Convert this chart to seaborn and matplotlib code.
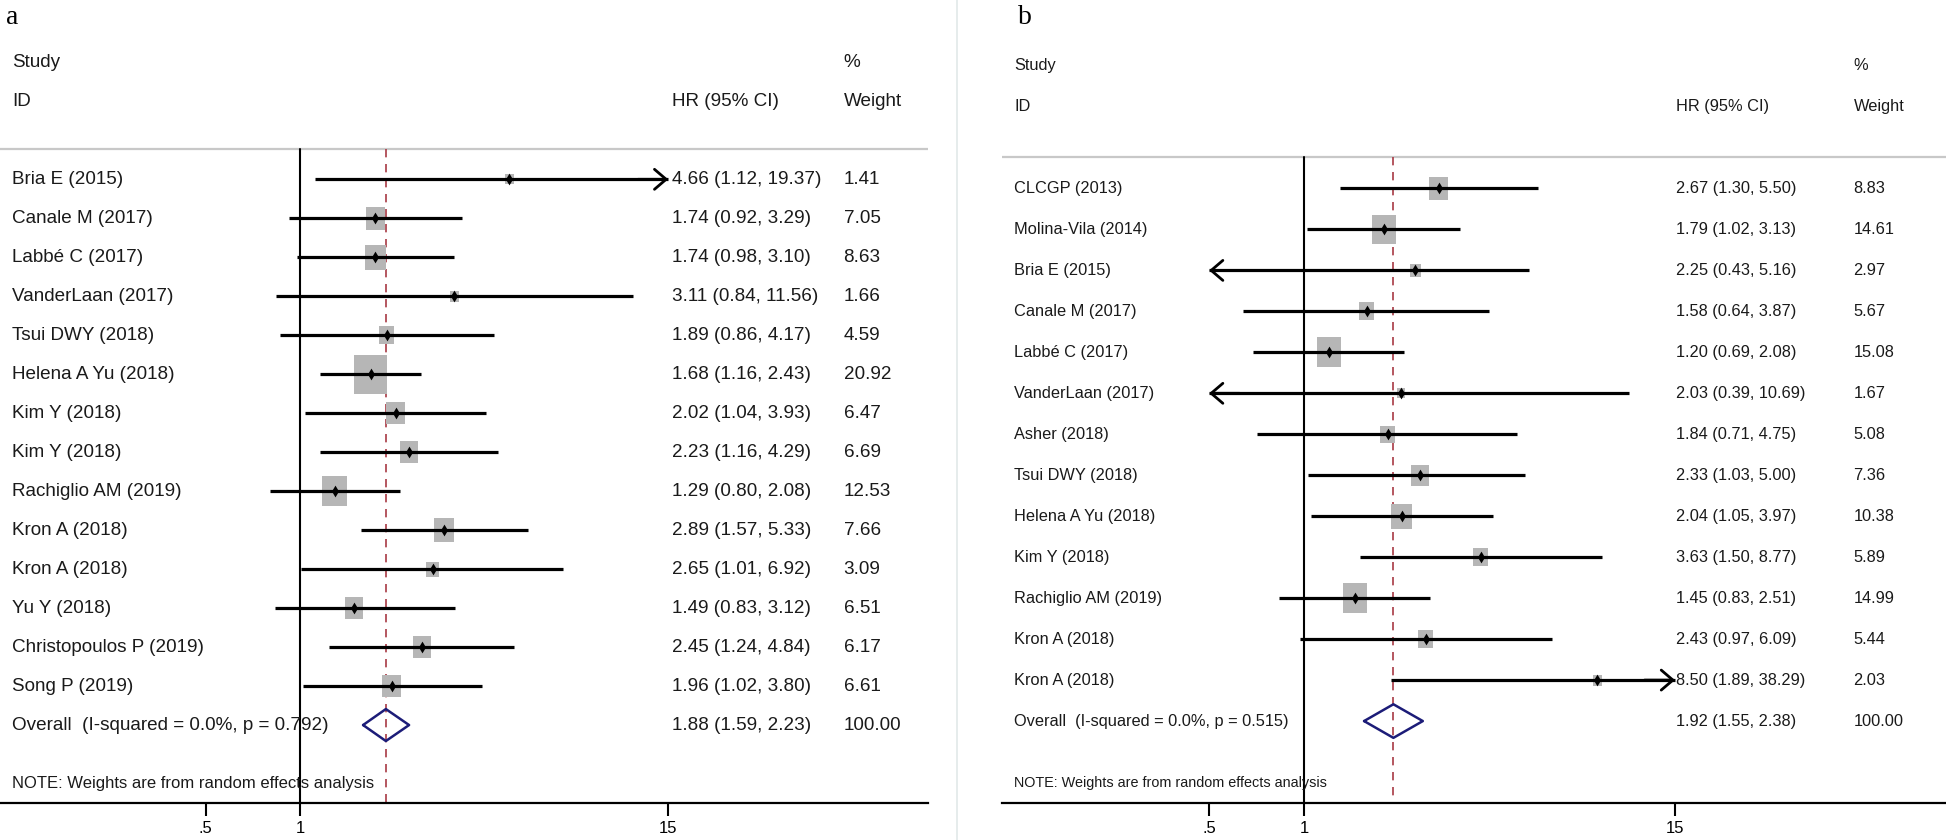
import numpy as np
import pandas as pd
import matplotlib
matplotlib.use("Agg")
import matplotlib.pyplot as plt
import seaborn as sns
from matplotlib.lines import Line2D
from matplotlib.ticker import FixedLocator, NullLocator

sns.set_style("white")
plt.rcParams['font.family'] = ['Liberation Sans', 'DejaVu Sans']

# Panel a data
studies_a = ["Bria E (2015)", "Canale M (2017)", "Labbé C (2017)", "VanderLaan (2017)",
             "Tsui DWY (2018)", "Helena A Yu (2018)", "Kim Y (2018)", "Kim Y (2018)",
             "Rachiglio AM (2019)", "Kron A (2018)", "Kron A (2018)", "Yu Y (2018)",
             "Christopoulos P (2019)", "Song P (2019)"]
hr_a = [4.66, 1.74, 1.74, 3.11, 1.89, 1.68, 2.02, 2.23, 1.29, 2.89, 2.65, 1.49, 2.45, 1.96]
lo_a = [1.12, 0.92, 0.98, 0.84, 0.86, 1.16, 1.04, 1.16, 0.80, 1.57, 1.01, 0.83, 1.24, 1.02]
hi_a = [19.37, 3.29, 3.10, 11.56, 4.17, 2.43, 3.93, 4.29, 2.08, 5.33, 6.92, 3.12, 4.84, 3.80]
wt_a = [1.41, 7.05, 8.63, 1.66, 4.59, 20.92, 6.47, 6.69, 12.53, 7.66, 3.09, 6.51, 6.17, 6.61]
overall_a = [1.88, 1.59, 2.23]
het_a = "Overall  (I-squared = 0.0%, p = 0.792)"

# Panel b data
studies_b = ["CLCGP (2013)", "Molina-Vila (2014)", "Bria E (2015)", "Canale M (2017)",
             "Labbé C (2017)", "VanderLaan (2017)", "Asher (2018)", "Tsui DWY (2018)",
             "Helena A Yu (2018)", "Kim Y (2018)", "Rachiglio AM (2019)", "Kron A (2018)",
             "Kron A (2018)"]
hr_b = [2.67, 1.79, 2.25, 1.58, 1.20, 2.03, 1.84, 2.33, 2.04, 3.63, 1.45, 2.43, 8.50]
lo_b = [1.30, 1.02, 0.43, 0.64, 0.69, 0.39, 0.71, 1.03, 1.05, 1.50, 0.83, 0.97, 1.89]
hi_b = [5.50, 3.13, 5.16, 3.87, 2.08, 10.69, 4.75, 5.00, 3.97, 8.77, 2.51, 6.09, 38.29]
wt_b = [8.83, 14.61, 2.97, 5.67, 15.08, 1.67, 5.08, 7.36, 10.38, 5.89, 14.99, 5.44, 2.03]
overall_b = [1.92, 1.55, 2.38]
het_b = "Overall  (I-squared = 0.0%, p = 0.515)"

tick_vals = [0.5, 1, 15]
tick_labels = [".5", "1", "15"]
note = "NOTE: Weights are from random effects analysis"

W, H = 1946, 840
fig = plt.figure(figsize=(W / 100, H / 100), dpi=100)

box_marker = [(-0.42, -0.5), (0.42, -0.5), (0.42, 0.5), (-0.42, 0.5), (-0.42, -0.5)]
txt_col = "#1a1a1a"


def draw_panel(ax, studies, hr, lo, hi, wt, overall, het, xlim, box_k, fs,
               hr_x, wt_x):
    n = len(studies)
    df = pd.DataFrame({"study": studies, "hr": hr, "lo": lo, "hi": hi, "wt": wt,
                       "row": np.arange(n)})
    ax.set_xscale("log")
    ax.set_xlim(*xlim)
    ax.set_ylim(n + 2, -4.6)
    cmin, cmax = tick_vals[0], tick_vals[-1]

    # header rule, null line, overall line
    ax.axhline(-0.78, color="#c8c8c8", lw=1.6, zorder=1)
    ax.plot([1, 1], [-0.78, n + 2], color="black", lw=1.5, zorder=2)
    ax.plot([overall[0]] * 2, [-0.78, n + 2], color="#a83a44", lw=1.2,
            dashes=(5, 4), zorder=2)

    # weight boxes
    sns.scatterplot(data=df, x="hr", y="row", size="wt",
                    sizes=(box_k * df.wt.min(), box_k * df.wt.max()),
                    size_norm=(df.wt.min(), df.wt.max()),
                    marker=box_marker, color="#b6b6b6", linewidth=0,
                    legend=False, ax=ax, zorder=3)

    # confidence intervals, clipped with arrows
    arrow = dict(arrowstyle="->,head_length=0.42,head_width=0.36", color="black",
                 lw=2.0, mutation_scale=20, shrinkA=0, shrinkB=0)
    for r in df.itertuples():
        a, b = max(r.lo, cmin), min(r.hi, cmax)
        ax.plot([a, b], [r.row, r.row], color="black", lw=2.3,
                solid_capstyle="butt", zorder=4)
        if r.hi > cmax:
            ax.annotate("", xy=(cmax, r.row), xytext=(cmax * 0.8, r.row),
                        arrowprops=arrow, zorder=4)
        if r.lo < cmin:
            ax.annotate("", xy=(cmin, r.row), xytext=(cmin * 1.25, r.row),
                        arrowprops=arrow, zorder=4)

    sns.scatterplot(data=df, x="hr", y="row", marker="d", s=36, color="black",
                    linewidth=0, legend=False, ax=ax, zorder=5)

    # overall diamond
    est, olo, ohi = overall
    ax.plot([olo, est, ohi, est, olo], [n, n - 0.41, n, n + 0.41, n],
            color="#1c1c78", lw=1.8, zorder=5)

    # text columns
    tr = ax.get_yaxis_transform()
    kw = dict(transform=tr, va="center", ha="left", fontsize=fs, color=txt_col)
    ax.text(0.013, -3, "Study", **kw)
    ax.text(0.013, -2, "ID", **kw)
    ax.text(hr_x, -2, "HR (95% CI)", **kw)
    ax.text(wt_x, -3, "%", **kw)
    ax.text(wt_x, -2, "Weight", **kw)
    for r in df.itertuples():
        ax.text(0.013, r.row, r.study, **kw)
        ax.text(hr_x, r.row, f"{r.hr:.2f} ({r.lo:.2f}, {r.hi:.2f})", **kw)
        ax.text(wt_x, r.row, f"{r.wt:.2f}", **kw)
    ax.text(0.013, n, het, **kw)
    ax.text(hr_x, n, f"{est:.2f} ({olo:.2f}, {ohi:.2f})", **kw)
    ax.text(wt_x, n, "100.00", **kw)
    ax.text(0.013, n + 1.5, note, transform=tr, va="center", ha="left",
            fontsize=fs * 0.88, color=txt_col)

    # axis
    for s in ["top", "left", "right"]:
        ax.spines[s].set_visible(False)
    ax.spines["bottom"].set_color("black")
    ax.spines["bottom"].set_linewidth(1.6)
    ax.xaxis.set_major_locator(FixedLocator(tick_vals))
    ax.xaxis.set_minor_locator(NullLocator())
    ax.set_xticklabels(tick_labels)
    ax.tick_params(axis="x", length=9, width=1.5, labelsize=12, pad=4,
                   colors="black", bottom=True)
    ax.set_yticks([])
    ax.set_xlabel("")
    ax.set_ylabel("")
    ax.patch.set_alpha(0)


bottom = 37 / H
ax_a = fig.add_axes([0, bottom, 928 / W, 1 - bottom])
draw_panel(ax_a, studies_a, hr_a, lo_a, hi_a, wt_a, overall_a, het_a,
           (0.1101, 101.3), 38.3, 13.6, 0.724, 0.909)

ax_b = fig.add_axes([1002 / W, bottom, 944 / W, 1 - bottom])
draw_panel(ax_b, studies_b, hr_b, lo_b, hi_b, wt_b, overall_b, het_b,
           (0.1103, 108.4), 30.3, 11.8, 0.714, 0.902)

fig.add_artist(Line2D([957 / W] * 2, [0, 1], color="#e2e9e9", lw=1.2))
fig.text(6 / W, 1 - 17 / H, "a", family=["Liberation Serif", "DejaVu Serif"],
         fontsize=20, va="center", ha="left", color="black")
fig.text(1018 / W, 1 - 17 / H, "b", family=["Liberation Serif", "DejaVu Serif"],
         fontsize=20, va="center", ha="left", color="black")

fig.savefig("out.png", dpi=100)
